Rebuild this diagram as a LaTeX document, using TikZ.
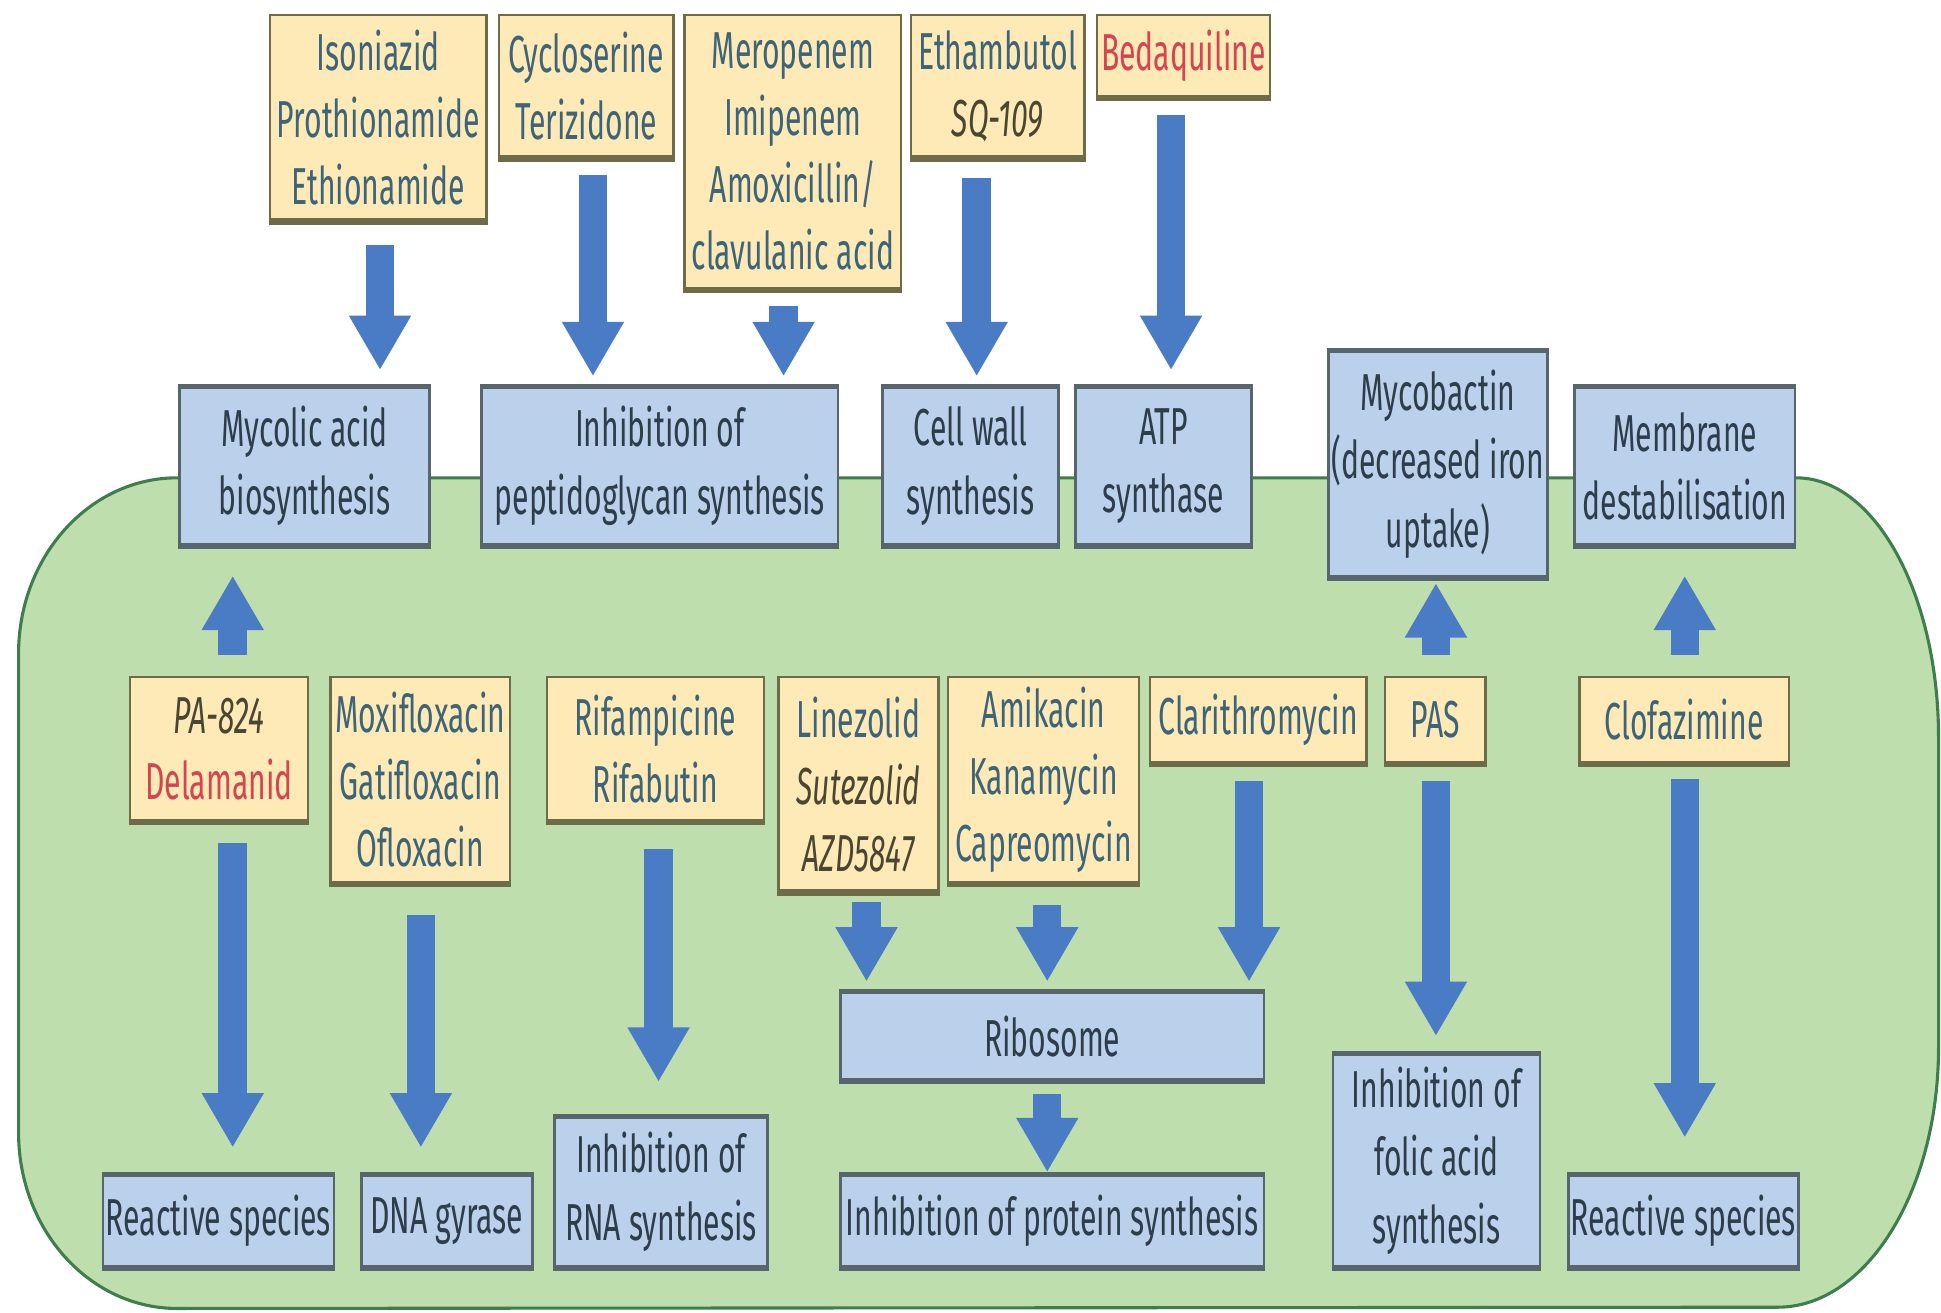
\documentclass[tikz,border=0pt]{standalone}
\usepackage{fontspec}
\setmainfont{Fira Sans}[FakeStretch=0.58]
\usetikzlibrary{arrows.meta,calc}
\definecolor{cellfill}{HTML}{BFDEAD}
\definecolor{celldraw}{HTML}{3E7E4C}
\definecolor{yfill}{HTML}{FDEAB7}
\definecolor{ydraw}{HTML}{6E6B48}
\definecolor{bfill}{HTML}{BBD0EA}
\definecolor{bdraw}{HTML}{56666C}
\definecolor{arrblue}{HTML}{4A7BC5}
\definecolor{drugtxt}{HTML}{3D6478}
\definecolor{drugit}{HTML}{4A4632}
\definecolor{drugred}{HTML}{D5454F}
\definecolor{btxt}{HTML}{2E3D4C}
\tikzset{
  ybox/.style={draw=ydraw, fill=yfill, line width=2pt, inner sep=0pt, align=center,
    text=drugtxt, font=\fontsize{42}{54}\selectfont,
    append after command={(\tikzlastnode.south west) edge[draw=ydraw, line width=5pt] (\tikzlastnode.south east)}},
  bbox/.style={draw=bdraw, fill=bfill, line width=2pt, inner sep=0pt, align=center,
    text=btxt, font=\fontsize{42}{55}\selectfont,
    append after command={(\tikzlastnode.south west) edge[draw=bdraw, line width=5pt] (\tikzlastnode.south east)
      (\tikzlastnode.north west) edge[draw=bdraw, line width=4pt] (\tikzlastnode.north east)}},
  barr/.style={draw=arrblue, line width=23pt, -{Triangle[width=47pt, length=44pt]}},
}
\newcommand{\ital}[1]{{\color{drugit}\itshape #1}}
\newcommand{\redd}[1]{{\color{drugred}#1}}
\begin{document}
\begin{tikzpicture}[x=1pt,y=-1pt]
\useasboundingbox[fill=white] (0,0) rectangle (1568,1060);
% cell
\draw[fill=cellfill, draw=celldraw, line width=2.5pt]
  (143,386) -- (1451,386)
  arc[start angle=-90, end angle=0, x radius=115, y radius=210]
  -- (1566,846)
  arc[start angle=0, end angle=90, x radius=130, y radius=210]
  -- (143,1057)
  arc[start angle=90, end angle=180, x radius=128, y radius=142]
  -- (15,528)
  arc[start angle=180, end angle=270, x radius=128, y radius=142]
  -- cycle;
% top drug boxes
\node[ybox, minimum width=175pt, minimum height=166pt] (iso) at (305.5,95) {Isoniazid\\Prothionamide\\Ethionamide};
\node[ybox, minimum width=141pt, minimum height=115pt] (cyc) at (473.5,69.5) {Cycloserine\\Terizidone};
\node[ybox, minimum width=175pt, minimum height=221pt] (mer) at (640.5,122.5) {Meropenem\\Imipenem\\Amoxicillin/\\clavulanic acid};
\node[ybox, minimum width=140pt, minimum height=115pt] (eth) at (806,69.5) {Ethambutol\\\ital{SQ-109}};
\node[ybox, minimum width=140pt, minimum height=66pt] (bed) at (956,45) {\redd{Bedaquiline}};
% top target boxes
\node[bbox, minimum width=202pt, minimum height=127pt] (myc) at (246,376.5) {Mycolic acid\\biosynthesis};
\node[bbox, minimum width=288pt, minimum height=127pt] (pep) at (533,376.5) {Inhibition of\\peptidoglycan synthesis};
\node[bbox, minimum width=142pt, minimum height=127pt] (cw) at (784,376.5) {Cell wall\\synthesis};
\node[bbox, minimum width=142pt, minimum height=127pt] (atp) at (940,376.5) {ATP\\synthase};
\node[bbox, minimum width=177pt, minimum height=182pt] (mycob) at (1161.5,375) {Mycobactin\\(decreased iron\\uptake)};
\node[bbox, minimum width=178pt, minimum height=127pt] (mem) at (1361,376.5) {Membrane\\destabilisation};
% middle drug boxes
\node[ybox, minimum width=144pt, minimum height=116pt] (pa) at (177,605) {\ital{PA-824}\\\redd{Delamanid}};
\node[ybox, minimum width=145pt, minimum height=166pt] (moxi) at (339.5,630) {Moxifloxacin\\Gatifloxacin\\Ofloxacin};
\node[ybox, minimum width=175pt, minimum height=116pt] (rif) at (529.5,605) {Rifampicine\\Rifabutin};
\node[ybox, minimum width=129pt, minimum height=173pt] (lin) at (693.5,633.5) {Linezolid\\\ital{Sutezolid}\\\ital{AZD5847}};
\node[ybox, minimum width=154pt, minimum height=166pt] (ami) at (843,630) {Amikacin\\Kanamycin\\Capreomycin};
\node[ybox, minimum width=175pt, minimum height=69pt] (cla) at (1016.5,581.5) {Clarithromycin};
\node[ybox, minimum width=81pt, minimum height=69pt] (pas) at (1159.5,581.5) {PAS};
\node[ybox, minimum width=169pt, minimum height=69pt] (clo) at (1360.5,581.5) {Clofazimine};
% bottom target boxes
\node[bbox, minimum width=187pt, minimum height=73pt] (rs1) at (176.5,986.5) {Reactive species};
\node[bbox, minimum width=138pt, minimum height=73pt] (dna) at (361,986.5) {DNA gyrase};
\node[bbox, minimum width=172pt, minimum height=120pt] (rna) at (534,963) {Inhibition of\\RNA synthesis};
\node[bbox, minimum width=342pt, minimum height=70pt] (ribo) at (850,837) {Ribosome};
\node[bbox, minimum width=342pt, minimum height=73pt] (prot) at (850,986.5) {Inhibition of protein synthesis};
\node[bbox, minimum width=167pt, minimum height=171pt] (fol) at (1160.5,937.5) {Inhibition of\\folic acid\\synthesis};
\node[bbox, minimum width=186pt, minimum height=73pt] (rs2) at (1360,986.5) {Reactive species};
% arrows top
\draw[barr] ($(iso.south)+(1.5,19)$) -- ($(iso.south |- myc.north)+(1.5,-13)$);
\draw[barr] ($(cyc.south)+(5.5,13)$) -- ($(cyc.south |- pep.north)+(5.5,-8)$);
\draw[barr] ($(mer.south)+(-7.5,13)$) -- ($(mer.south |- pep.north)+(-7.5,-8)$);
\draw[barr] ($(eth.south)+(-17,16)$) -- ($(eth.south |- cw.north)+(-17,-8)$);
\draw[barr] ($(bed.south)+(-10,14)$) -- ($(bed.south |- atp.north)+(-10,-13)$);
% up arrows
\draw[barr] ($(pa.north)+(11,-17)$) -- ($(pa.north |- myc.south)+(11,24)$);
\draw[barr] ($(pas.north)+(0.5,-17)$) -- ($(pas.north |- mycob.south)+(0.5,4)$);
\draw[barr] ($(clo.north)+(0.5,-17)$) -- ($(clo.north |- mem.south)+(0.5,24)$);
% down arrows middle
\draw[barr] ($(pa.south)+(11,17)$) -- ($(pa.south |- rs1.north)+(11,-22)$);
\draw[barr] ($(moxi.south)+(0.5,25)$) -- ($(moxi.south |- dna.north)+(0.5,-22)$);
\draw[barr] ($(rif.south)+(2.5,22)$) -- ($(rif.south |- rna.north)+(2.5,-28)$);
\draw[barr] ($(lin.south)+(6.5,8)$) -- ($(lin.south |- ribo.north)+(6.5,-8)$);
\draw[barr] ($(ami.south)+(3,17)$) -- ($(ami.south |- ribo.north)+(3,-8)$);
\draw[barr] ($(cla.south)+(-7.5,14)$) -- ($(cla.south |- ribo.north)+(-7.5,-8)$);
\draw[barr] ($(pas.south)+(0.5,14)$) -- ($(pas.south |- fol.north)+(0.5,-14)$);
\draw[barr] ($(clo.south)+(0.5,12)$) -- ($(clo.south |- rs2.north)+(0.5,-30)$);
\draw[barr] ($(ribo.south)+(-4,11)$) -- ($(ribo.south |- prot.north)+(-4,-2)$);
\end{tikzpicture}
\end{document}
